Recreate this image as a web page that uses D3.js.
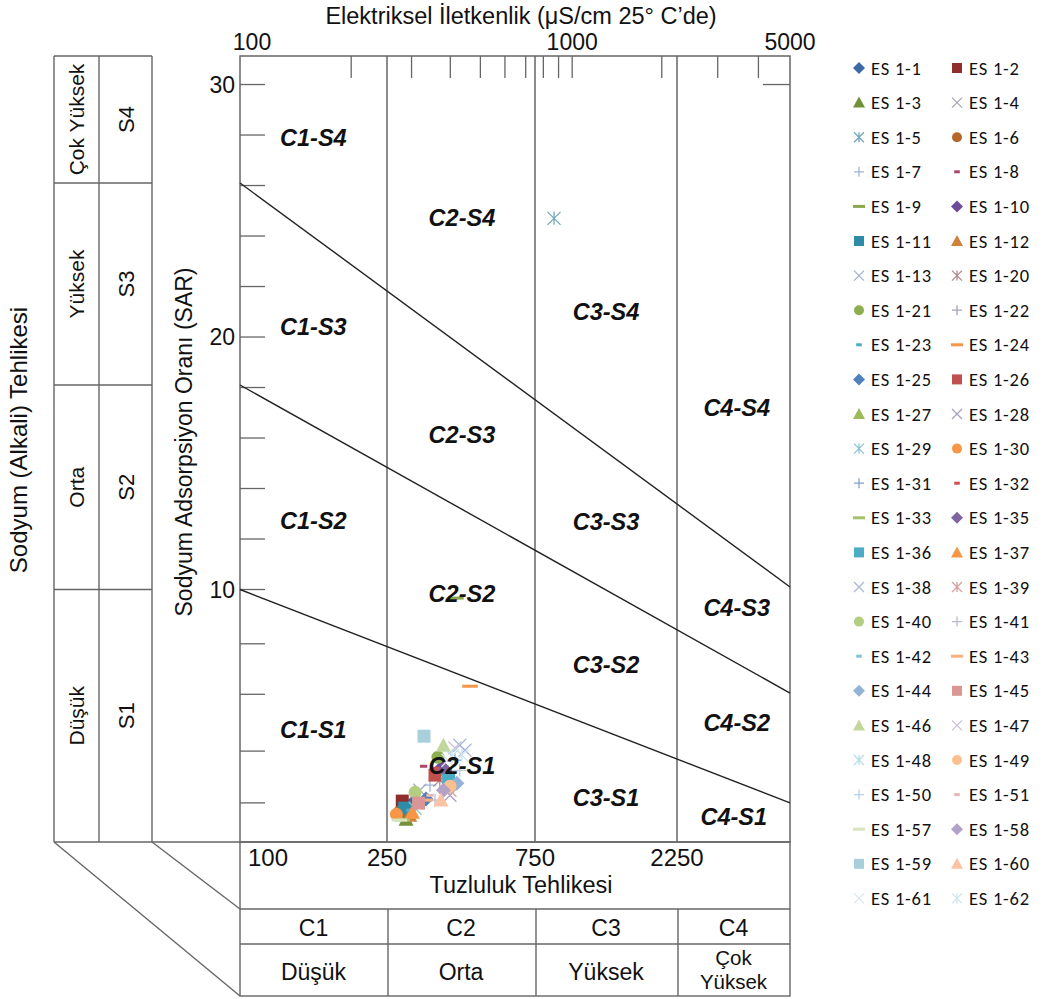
<!DOCTYPE html>
<html>
<head>
<meta charset="utf-8">
<script src="https://cdn.jsdelivr.net/npm/d3@7"></script>
<style>
  body { margin: 0; background: #fff; }
  svg { display: block; }
  text { font-family: "Liberation Sans", Arial, sans-serif; fill: #111; }
</style>
</head>
<body>
<div id="container"></div>
<script>
// sample names, conductivity (µS/cm) and SAR
const sampleNames = ["ES1-1","ES1-2","ES1-3","ES1-4","ES1-5","ES1-6","ES1-7","ES1-8","ES1-9","ES1-10",
  "ES1-11","ES1-12","ES1-13","ES1-20","ES1-21","ES1-22","ES1-23","ES1-24","ES1-25","ES1-26",
  "ES1-27","ES1-28","ES1-29","ES1-30","ES1-31","ES1-32","ES1-33","ES1-35","ES1-36","ES1-37",
  "ES1-38","ES1-39","ES1-40","ES1-41","ES1-42","ES1-43","ES1-44","ES1-45","ES1-46","ES1-47",
  "ES1-48","ES1-49","ES1-50","ES1-51","ES1-57","ES1-58","ES1-59","ES1-60","ES1-61","ES1-62"];
const ecValues = [302,280,288,319,869,274,344,328,417,376,
  285,296,446,370,365,385,296,463,334,357,
  393,399,308,268,414,360,280,385,395,302,
  429,399,308,357,319,331,420,316,380,414,
  405,399,429,344,274,380,329,373,393,436];
const sarValues = [1.54,1.62,0.90,2.05,24.7,1.18,2.25,3.0,9.66,2.96,
  1.34,1.06,3.64,2.45,3.36,2.65,1.26,6.17,1.70,2.65,
  2.77,1.85,1.34,1.10,3.24,2.92,0.87,2.84,2.45,1.18,
  3.83,2.05,1.97,1.66,1.46,1.66,2.33,1.54,3.83,3.72,
  3.40,2.21,2.84,1.85,0.87,2.05,4.19,1.66,3.24,3.44];
const seriesColors = ["#3d6aa5","#8e2f2c","#71923a","#a9a9b8","#72a9ba","#b4672a","#9fb4d6","#b0476a","#8aa84a","#6b4c9a",
  "#2f8ca8","#d0823a","#9db3d3","#b58a8a","#8ead4e","#a7a0ba","#4bacc6","#f79646","#4f81bd","#c0504d",
  "#9bbb59","#a9a0c0","#8bc4d4","#f79646","#7fa0cc","#d05050","#a5c26b","#8064a2","#4bacc6","#f79646",
  "#a8b8d8","#d4a0a0","#b3cd83","#c0b8d0","#7fc4d8","#f9b07e","#95b3d7","#d99694","#c3d69b","#ccc1da",
  "#b7dee8","#fac090","#b9cde5","#e6b9b8","#d7e4bd","#b3a2c7","#a8d0dc","#fbc3a5","#dce6f2","#cfe6ee"];
const markerCycle = ["diamond","square","triangle","x","star","circle","plus","dash","longdash"];

// axes
const ecDomain = [100, 250, 750, 2250, 5000];
const ecClassBreaks = [250, 750, 2250];
const ecMinorTicks = [200, 300, 400, 500, 600, 700, 800, 900, 1000, 2000, 3000, 4000];
const ecTopLabels = [100, 1000, 5000];
const ecBottomLabels = [100, 250, 750, 2250];
const sarTicks = [1.55, 3.6, 5.85, 7.85, 10, 12, 14, 16, 18, 20, 22, 24, 26, 28, 30];
const sarLabels = [10, 20, 30];
// S-class boundaries: SAR at 100 µS/cm and at 5000 µS/cm
const sarAt100 = [10, 18.1, 26.1];
const sarAt5000 = [1.55, 5.9, 10.1];

const classCodes = ["C1", "C2", "C3", "C4"];
const classNames = [["Düşük"], ["Orta"], ["Yüksek"], ["Çok", "Yüksek"]];
const sodiumCodes = ["S1", "S2", "S3", "S4"];
const sodiumNames = ["Düşük", "Orta", "Yüksek", "Çok Yüksek"];

// zone labels: [text, EC, SAR]
const zoneLabels = [
  ["C1-S4", 158, 27.9], ["C1-S3", 158, 20.4], ["C1-S2", 158, 12.7], ["C1-S1", 158, 4.43],
  ["C2-S4", 436, 24.7], ["C2-S3", 436, 16.1], ["C2-S2", 436, 9.81], ["C2-S1", 436, 3.0],
  ["C3-S4", 1299, 21.0], ["C3-S3", 1299, 12.67], ["C3-S2", 1299, 7.0], ["C3-S1", 1299, 1.73],
  ["C4-S4", 3431, 17.2], ["C4-S3", 3431, 9.26], ["C4-S2", 3431, 4.7], ["C4-S1", 3360, 0.98]
];

const svg = d3.select("#container").append("svg").attr("width", 1044).attr("height", 999);

const x = d3.scaleLog().domain(ecDomain).range([240, 387, 535, 677, 790]);
const y = d3.scaleLinear().domain([0, 31.13]).range([842, 56]);

const gridColor = "#666";
const pTop = y.range()[1], pBottom = y.range()[0], pLeft = x.range()[0], pRight = x.range()[4];

// title & top labels
svg.append("text").attr("x", 521).attr("y", 24).attr("text-anchor", "middle")
  .style("font-size", "23.5px").text("Elektriksel İletkenlik (μS/cm  25° C’de)");
svg.selectAll(".toplab").data(ecTopLabels).enter().append("text")
  .attr("x", (d, i) => x(d) + (i === 0 ? 12 : 0)).attr("y", 50)
  .attr("text-anchor", "middle").style("font-size", "23px").text((d) => d);

// plot frame
svg.append("rect").attr("x", pLeft).attr("y", pTop).attr("width", pRight - pLeft).attr("height", pBottom - pTop)
  .attr("fill", "none").attr("stroke", gridColor).attr("stroke-width", 1.5);

// top minor ticks
svg.selectAll(".mtick").data(ecMinorTicks).enter().append("line")
  .attr("x1", (d) => x(d)).attr("x2", (d) => x(d)).attr("y1", pTop).attr("y2", pTop + 22)
  .attr("stroke", gridColor).attr("stroke-width", 1.3);
// class break verticals
svg.selectAll(".brk").data(ecClassBreaks).enter().append("line")
  .attr("x1", (d) => x(d)).attr("x2", (d) => x(d)).attr("y1", pTop).attr("y2", pBottom)
  .attr("stroke", gridColor).attr("stroke-width", 1.5);

// left SAR ticks
svg.selectAll(".stick").data(sarTicks).enter().append("line")
  .attr("x1", pLeft).attr("x2", pLeft + 25).attr("y1", (d) => y(d)).attr("y2", (d) => y(d))
  .attr("stroke", gridColor).attr("stroke-width", 1.3);
svg.append("line").attr("x1", pRight - 27).attr("x2", pRight).attr("y1", y(30)).attr("y2", y(30))
  .attr("stroke", gridColor).attr("stroke-width", 1.3);
svg.selectAll(".slab").data(sarLabels).enter().append("text")
  .attr("x", 235).attr("y", (d) => y(d) + 8).attr("text-anchor", "end")
  .style("font-size", "23px").text((d) => d);

// S-class boundary lines
svg.selectAll(".bound").data(d3.range(sarAt100.length)).enter().append("line")
  .attr("x1", x(100)).attr("y1", (i) => y(sarAt100[i]))
  .attr("x2", x(5000)).attr("y2", (i) => y(sarAt5000[i]))
  .attr("stroke", "#222").attr("stroke-width", 1.4);

// left panel
const c1 = 54, c2 = 99, c3 = 152;
const sEdges = [pBottom, y(sarAt100[0]), y(sarAt100[1]), y(sarAt100[2]), pTop];
const leftG = svg.append("g").attr("stroke", gridColor).attr("stroke-width", 1.4);
leftG.append("line").attr("x1", c1).attr("x2", c1).attr("y1", pTop).attr("y2", pBottom);
leftG.append("line").attr("x1", c2).attr("x2", c2).attr("y1", pTop).attr("y2", pBottom);
leftG.append("line").attr("x1", c3).attr("x2", c3).attr("y1", pTop).attr("y2", pBottom);
leftG.selectAll(".hl").data(sEdges).enter().append("line")
  .attr("x1", c1).attr("x2", (d, i) => (i === 0 ? pLeft : c3)).attr("y1", (d) => d).attr("y2", (d) => d);
leftG.append("line").attr("x1", c1).attr("y1", pBottom).attr("x2", pLeft).attr("y2", 996);
leftG.append("line").attr("x1", c3).attr("y1", pBottom).attr("x2", pLeft).attr("y2", 909);

sodiumNames.forEach((name, i) => {
  const cy = (sEdges[i] + sEdges[i + 1]) / 2;
  svg.append("text").attr("transform", `translate(${(c1 + c2) / 2 + 7},${cy}) rotate(-90)`)
    .attr("text-anchor", "middle").style("font-size", "21px").text(name);
  svg.append("text").attr("transform", `translate(${(c2 + c3) / 2 + 8},${cy}) rotate(-90)`)
    .attr("text-anchor", "middle").style("font-size", "22px").text(sodiumCodes[i]);
});
svg.append("text").attr("transform", "translate(27,440) rotate(-90)")
  .attr("text-anchor", "middle").style("font-size", "24px").text("Sodyum (Alkali) Tehlikesi");
svg.append("text").attr("transform", "translate(192,442) rotate(-90)")
  .attr("text-anchor", "middle").style("font-size", "23px").text("Sodyum Adsorpsiyon Oranı (SAR)");

// bottom table
const botG = svg.append("g").attr("stroke", gridColor).attr("stroke-width", 1.4);
botG.append("rect").attr("x", pLeft).attr("y", pBottom).attr("width", pRight - pLeft).attr("height", 996 - pBottom).attr("fill", "none");
botG.append("line").attr("x1", pLeft).attr("x2", pRight).attr("y1", 909).attr("y2", 909);
botG.append("line").attr("x1", pLeft).attr("x2", pRight).attr("y1", 944).attr("y2", 944);
botG.selectAll(".bv").data(ecClassBreaks).enter().append("line")
  .attr("x1", (d) => x(d) + 1).attr("x2", (d) => x(d) + 1).attr("y1", 909).attr("y2", 996);

svg.selectAll(".blab").data(ecBottomLabels).enter().append("text")
  .attr("x", (d, i) => x(d) + (i === 0 ? 28 : 0)).attr("y", 866).attr("text-anchor", "middle")
  .style("font-size", "24px").text((d) => d);
svg.append("text").attr("x", 521).attr("y", 893).attr("text-anchor", "middle")
  .style("font-size", "23.5px").text("Tuzluluk Tehlikesi");

const classEdges = [100].concat(ecClassBreaks, [5000]);
classCodes.forEach((code, i) => {
  const cx = (x(classEdges[i]) + x(classEdges[i + 1])) / 2;
  svg.append("text").attr("x", cx).attr("y", 936).attr("text-anchor", "middle").style("font-size", "23px").text(code);
  const lines = classNames[i];
  lines.forEach((t, j) => {
    svg.append("text").attr("x", cx).attr("y", lines.length === 1 ? 980 : 965 + j * 24)
      .attr("text-anchor", "middle").style("font-size", lines.length === 1 ? "23px" : "20.5px").text(t);
  });
});

// markers
function marker(g, type, color, s) {
  const h = s / 2;
  if (type === "diamond") g.append("path").attr("d", `M0,${-h - 1}L${h + 1},0L0,${h + 1}L${-h - 1},0Z`).attr("fill", color);
  else if (type === "square") g.append("rect").attr("x", -h).attr("y", -h).attr("width", s).attr("height", s).attr("fill", color);
  else if (type === "triangle") g.append("path").attr("d", `M0,${-h - 1}L${h + 1},${h}L${-h - 1},${h}Z`).attr("fill", color);
  else if (type === "circle") g.append("circle").attr("r", h).attr("fill", color);
  else if (type === "x") g.append("path").attr("d", `M${-h},${-h}L${h},${h}M${-h},${h}L${h},${-h}`).attr("stroke", color).attr("stroke-width", 1.3);
  else if (type === "star") g.append("path").attr("d", `M${-h},${-h}L${h},${h}M${-h},${h}L${h},${-h}M0,${-h}L0,${h}`).attr("stroke", color).attr("stroke-width", 1.3);
  else if (type === "plus") g.append("path").attr("d", `M${-h},0L${h},0M0,${-h}L0,${h}`).attr("stroke", color).attr("stroke-width", 1.3);
  else if (type === "dash") g.append("rect").attr("x", -s * 0.28).attr("y", -1.5).attr("width", s * 0.56).attr("height", 3).attr("fill", color);
  else if (type === "longdash") g.append("rect").attr("x", -s * 0.6).attr("y", -1.5).attr("width", s * 1.2).attr("height", 3).attr("fill", color);
}

const pts = svg.append("g");
sampleNames.forEach((name, i) => {
  const g = pts.append("g").attr("transform", `translate(${x(ecValues[i])},${y(sarValues[i])})`);
  marker(g, markerCycle[i % markerCycle.length], seriesColors[i], 13);
});

// zone labels
svg.selectAll(".zone").data(zoneLabels).enter().append("text")
  .attr("x", (d) => x(d[1])).attr("y", (d) => y(d[2]) + 8).attr("text-anchor", "middle")
  .style("font-size", "23.5px").style("font-weight", "bold").style("font-style", "italic")
  .text((d) => d[0]);

// legend
const legend = svg.append("g");
sampleNames.forEach((name, i) => {
  const col = i % 2, row = Math.floor(i / 2);
  const lx = 859 + col * 98, ly = 68 + row * 34.6;
  const g = legend.append("g").attr("transform", `translate(${lx},${ly})`);
  marker(g, markerCycle[i % markerCycle.length], seriesColors[i], 10);
  legend.append("text").attr("x", lx + 12).attr("y", ly + 6.5)
    .style("font-family", "Carlito, Lato, sans-serif").style("font-size", "18.5px")
    .style("letter-spacing", "0.8px").text(name.replace("ES", "ES "));
});
</script>
</body>
</html>
